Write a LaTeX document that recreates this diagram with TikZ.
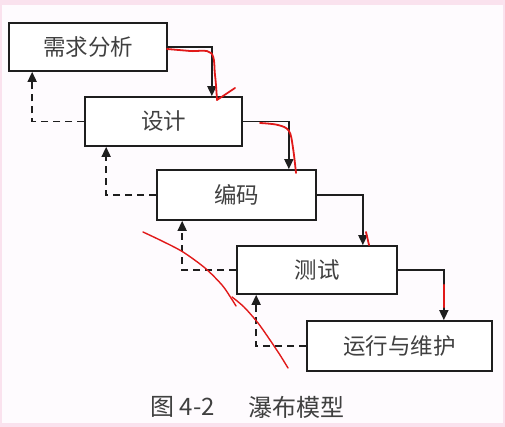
\documentclass[tikz,border=0pt]{standalone}
\usepackage{fontspec}
\setmainfont{Noto Sans CJK SC}
\usetikzlibrary{arrows.meta,calc}
\definecolor{pinkbg}{RGB}{250,226,238}
\definecolor{paper}{RGB}{254,251,254}
\definecolor{ink}{RGB}{30,30,30}
\definecolor{pen}{RGB}{225,25,25}
\begin{document}
\begin{tikzpicture}[x=1pt,y=-1pt,
  stage/.style={draw=ink,line width=1.7pt,fill=white,inner sep=0pt,
    font=\fontsize{22.5}{22.5}\selectfont,text=ink!85},
  flow/.style={draw=ink,line width=1.6pt,-{Triangle[length=10pt,width=9pt]}},
  back/.style={draw=ink,line width=1.6pt,dash pattern=on 7pt off 5pt,-{Triangle[length=10pt,width=9pt]}},
  scribble/.style={draw=pen,line width=1.8pt,line cap=round,line join=round},
  caption/.style={font=\fontsize{24}{24}\selectfont,text=ink!85,inner sep=0pt}]
\useasboundingbox (0,0) rectangle (505,427);
\fill[pinkbg] (0,0) rectangle (505,427);
\fill[paper] (2,5) rectangle (503,423);

\node[stage,minimum width=158pt,minimum height=48pt] (b1) at (88,47) {需求分析};
\node[stage,minimum width=157pt,minimum height=49pt] (b2) at (163.5,121.5) {设计};
\node[stage,minimum width=159pt,minimum height=50pt] (b3) at (236.5,195) {编码};
\node[stage,minimum width=160pt,minimum height=48pt] (b4) at (317,270) {测试};
\node[stage,minimum width=185pt,minimum height=50pt] (b5) at (399.5,346) {运行与维护};

\draw[flow] (b1.east) -| ([xshift=-31pt]b2.north east);
\draw[flow] (b2.east) -| ([xshift=-28pt]b3.north east);
\draw[flow] (b3.east) -| ([xshift=-35pt]b4.north east);
\draw[flow] (b4.east) -| ([xshift=-49pt]b5.north east);

\draw[back] (b2.west) -| ([xshift=24pt]b1.south west);
\draw[back] (b3.west) -| ([xshift=22pt]b2.south west);
\draw[back] (b4.west) -| ([xshift=26pt]b3.south west);
\draw[back] (b5.west) -| ([xshift=20pt]b4.south west);

\node[caption] (fig) at (182.5,407) {图 4-2};
\node[caption] (title) at (296.5,407) {瀑布模型};

% red hand annotations
\draw[scribble] plot[smooth,tension=0.6] coordinates {(167,49) (190,51) (211,53) (215,75) (217,100)} -- (226,94) -- (235,88);
\draw[scribble] plot[smooth,tension=0.6] coordinates {(260,123) (278,125) (289,131) (293,148) (296,173)};
\draw[scribble] (366,232) -- (369,245);
\draw[scribble,line width=2.6pt] (444,285) -- (444,307);
\draw[scribble,line width=1.4pt] plot[smooth,tension=0.5] coordinates {(143,232) (162,241) (183,252) (205,268) (222,285) (231,298) (236,306)};
\draw[scribble,line width=1.4pt] plot[smooth,tension=0.5] coordinates {(232,297) (244,307) (258,323) (270,340) (280,355) (288,368)};
\end{tikzpicture}
\end{document}
